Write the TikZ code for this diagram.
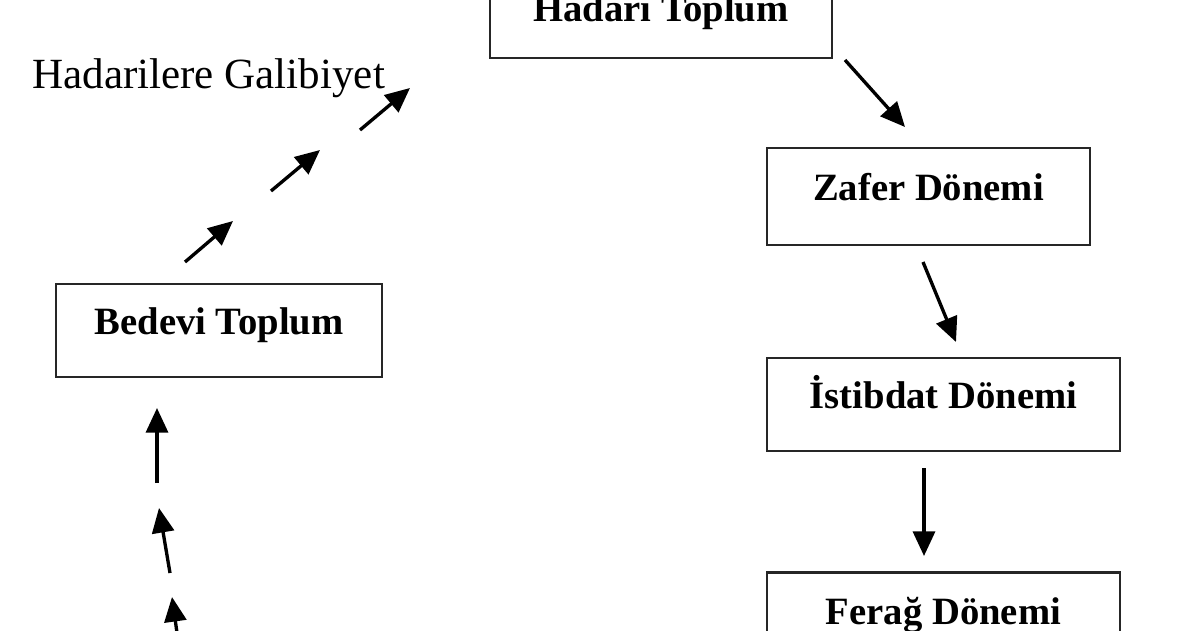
\documentclass[tikz,border=0pt]{standalone}
\usepackage{fontspec}
\setmainfont{Liberation Serif}
\usetikzlibrary{arrows.meta}

\begin{document}
\begin{tikzpicture}[x=0.02cm, y=-0.02cm,
    box/.style={draw=black!85, line width=1.4pt, rectangle, minimum height=1.9cm,
        font=\fontsize{22}{26}\selectfont\bfseries, text height=0.8em, text depth=0.3em},
    arr/.style={line width=1.9pt, black, -{Triangle[length=14pt, width=12.5pt]}}]
    \useasboundingbox (0,0) rectangle (1200,630);
    \clip (0,0) rectangle (1200,630);
    \path
        (661,17) node(hadari)[box, minimum width=6.84cm, minimum height=1.64cm]{Hadari Toplum}
        (928.5,196.5) node(zafer)[box, minimum width=6.46cm, minimum height=1.94cm]{Zafer Dönemi}
        (943.5,404.5) node(istibdat)[box, minimum width=7.06cm, minimum height=1.86cm]{İstibdat Dönemi}
        (943.5,620) node(ferag)[box, minimum width=7.06cm]{Ferağ Dönemi}
        (219,330.5) node(bedevi)[box, minimum width=6.52cm, minimum height=1.86cm]{Bedevi Toplum}
        (32,88) node(galibiyet)[anchor=base west, inner sep=0pt,
            font=\fontsize{24.5}{28}\selectfont]{Hadarilere Galibiyet};
    % ends of the arrows
    \coordinate (h1) at (845,60);   \coordinate (z0) at (905,127);
    \coordinate (z1) at (923,262);  \coordinate (i0) at (956,342);
    \coordinate (i1) at (924,468);  \coordinate (f0) at (924,556);
    \coordinate (u1) at (178,640);  \coordinate (u2) at (172,597);
    \coordinate (u3) at (170,573);  \coordinate (u4) at (159,508);
    \coordinate (u5) at (157,483);  \coordinate (b0) at (157,408);
    \coordinate (d1) at (185,262);  \coordinate (d2) at (233,221);
    \coordinate (d3) at (271,191);  \coordinate (d4) at (320,150);
    \coordinate (d5) at (360,130);  \coordinate (g0) at (410,88);
    \draw [arr] (h1) -- (z0);
    \draw [arr] (z1) -- (i0);
    \draw [arr] (i1) -- (f0);
    \draw [arr] (u1) -- (u2);
    \draw [arr] (u3) -- (u4);
    \draw [arr] (u5) -- (b0);
    \draw [arr] (d1) -- (d2);
    \draw [arr] (d3) -- (d4);
    \draw [arr] (d5) -- (g0);
\end{tikzpicture}
\end{document}
